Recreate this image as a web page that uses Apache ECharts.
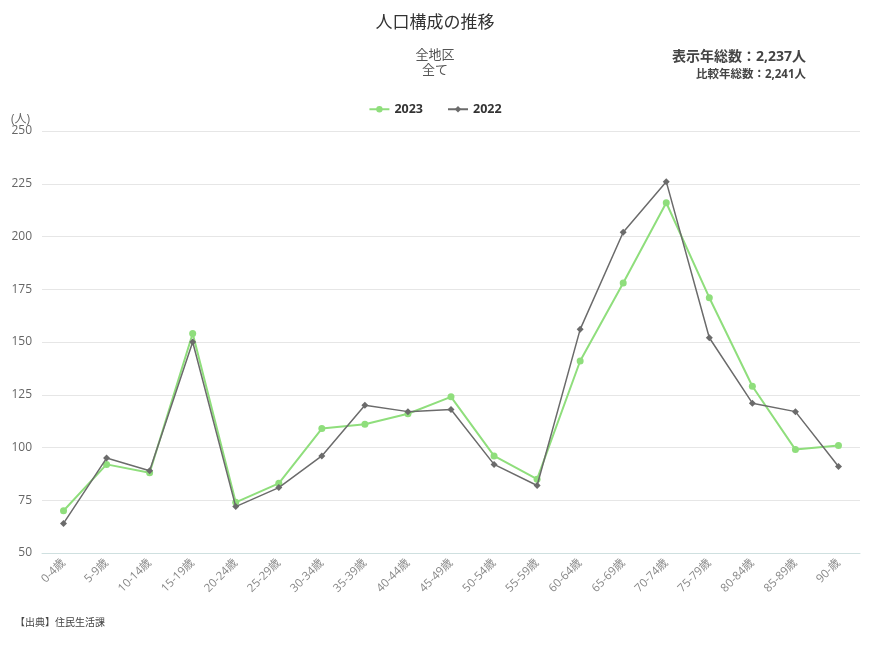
<!DOCTYPE html>
<html><head><meta charset="utf-8">
<script src="https://cdn.jsdelivr.net/npm/echarts@6/dist/echarts.min.js"></script>
<style>html,body{margin:0;padding:0;background:#fff}#c{width:870px;height:659px}</style>
</head><body><div id="c"></div>
<script>
const categories = ['0-4歳','5-9歳','10-14歳','15-19歳','20-24歳','25-29歳','30-34歳','35-39歳','40-44歳','45-49歳','50-54歳','55-59歳','60-64歳','65-69歳','70-74歳','75-79歳','80-84歳','85-89歳','90-歳'];
const values2023 = [70,92,88,154,74,83,109,111,116,124,96,85,141,178,216,171,129,99,101];
const values2022 = [64,95,89,150,72,81,96,120,117,118,92,82,156,202,226,152,121,117,91];
const yTicks = {min:50, max:250, interval:25};
const FONT = '"Open Sans","Noto Sans CJK JP",sans-serif';
const chart = echarts.init(document.getElementById('c'));
chart.setOption({
  animation:false,
  textStyle:{fontFamily:FONT},
  title:[
    {text:'人口構成の推移', left:'center', top:10, textStyle:{fontSize:17, fontWeight:'normal', color:'#333', fontFamily:FONT}},
    {text:'全地区\n全て', left:'center', top:43, textStyle:{fontSize:13, fontWeight:'normal', color:'#555', lineHeight:15, fontFamily:FONT}},
    {text:'表示年総数：2,237人', right:59, top:45, textStyle:{fontSize:14, fontWeight:'bold', color:'#444', fontFamily:FONT}},
    {text:'比較年総数：2,241人', right:59, top:64, textStyle:{fontSize:11.5, fontWeight:'bold', color:'#444', fontFamily:FONT}},
    {text:'【出典】住民生活課', left:10, top:613, textStyle:{fontSize:10, fontWeight:'normal', color:'#444', fontFamily:FONT}}
  ],
  legend:{top:98, left:'center', itemWidth:20, itemHeight:8, itemGap:24,
    textStyle:{fontSize:12.5, fontWeight:'bold', color:'#333'},
    data:['2023','2022']},
  grid:{left:42, right:10, top:131, bottom:106},
  xAxis:{type:'category', data:categories, boundaryGap:true,
    axisLine:{lineStyle:{color:'#cfe0e0'}}, axisTick:{show:false},
    axisLabel:{rotate:45, color:'#888', fontSize:11.5, interval:0, margin:8}},
  yAxis:{type:'value', min:yTicks.min, max:yTicks.max, interval:yTicks.interval,
    name:'(人)', nameLocation:'end', nameGap:9,
    nameTextStyle:{color:'#666', fontSize:12, align:'right', verticalAlign:'middle', padding:[0,12,0,0]},
    axisLine:{show:false}, axisTick:{show:false},
    axisLabel:{color:'#666', fontSize:12, margin:10},
    splitLine:{lineStyle:{color:'#e6e6e6'}}},
  series:[
    {name:'2023', type:'line', data:values2023, symbol:'circle', symbolSize:7,
      itemStyle:{color:'#8fde7c'}, lineStyle:{color:'#8fde7c', width:2}, z:2},
    {name:'2022', type:'line', data:values2022, symbol:'diamond', symbolSize:7,
      itemStyle:{color:'#6b6b6b'}, lineStyle:{color:'#6b6b6b', width:1.5}, z:3}
  ]
});
</script></body></html>
